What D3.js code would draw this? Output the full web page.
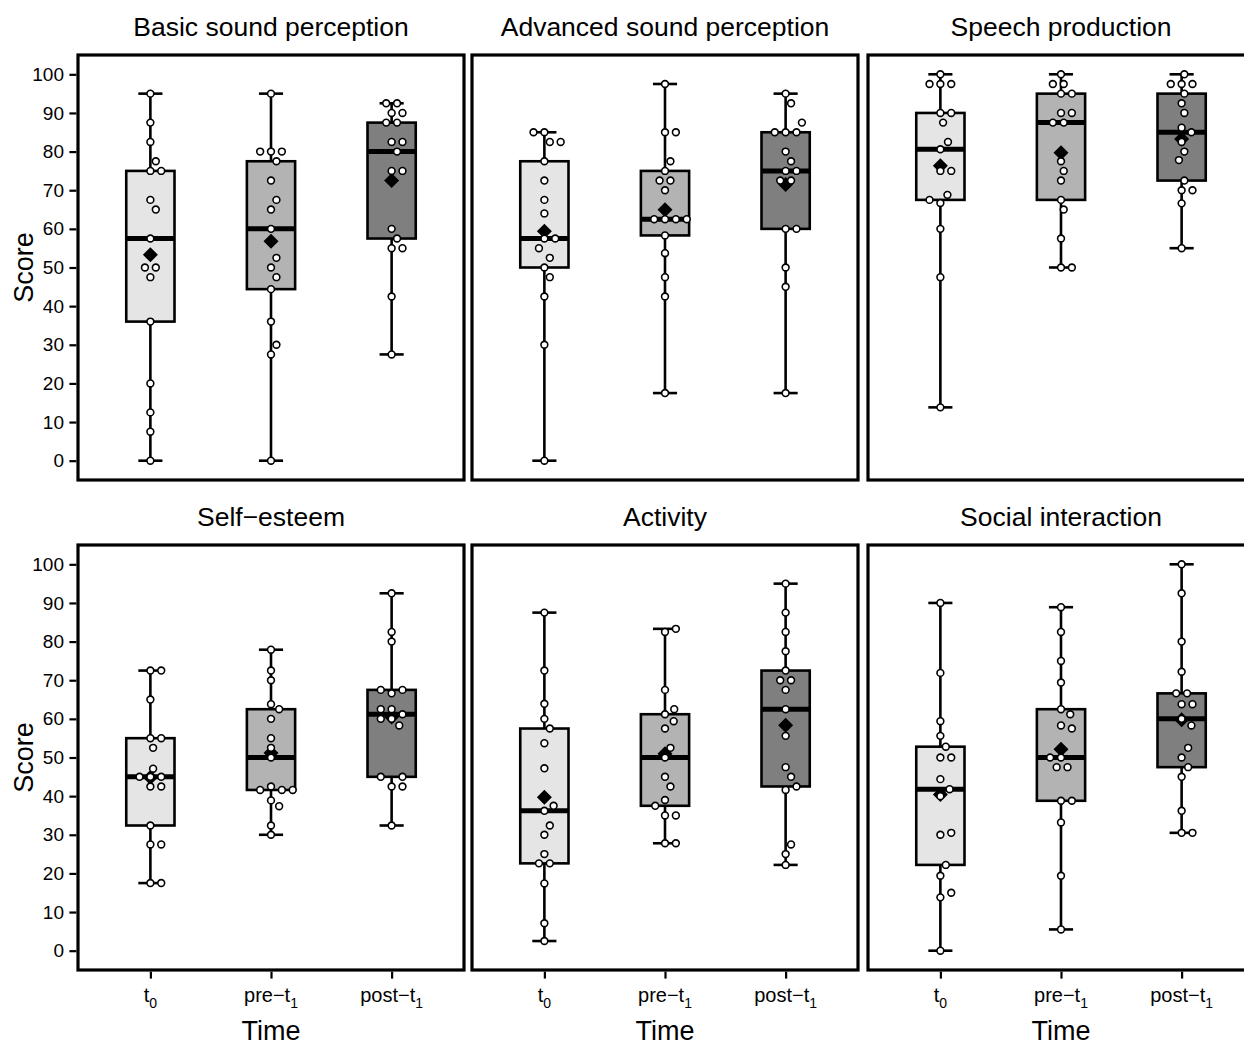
<!DOCTYPE html>
<html>
<head>
<meta charset="utf-8">
<script src="https://cdn.jsdelivr.net/npm/d3@7"></script>
<style>
  body { margin: 0; background: #fff; overflow: hidden; }
  svg { display: block; font-family: "Liberation Sans", Arial, Helvetica, sans-serif; }
</style>
</head>
<body>
<div id="chart"></div>
<script>
// categories
var panelTitles = ["Basic sound perception", "Advanced sound perception", "Speech production",
                   "Self\u2212esteem", "Activity", "Social interaction"];
var times = ["t0", "pre-t1", "post-t1"];
var timeLabels = [["t", "0"], ["pre\u2212t", "1"], ["post\u2212t", "1"]];
var yTicks = [0, 10, 20, 30, 40, 50, 60, 70, 80, 90, 100];
var boxFills = ["#e5e5e5", "#b3b3b3", "#7f7f7f"];

// scores per participant, one array per panel and time
var basicT0   = [95, 87.5, 82.5, 77.5, 75, 75, 67.5, 65, 57.5, 50, 50, 47.5, 36, 20, 12.5, 7.5, 0];
var basicPre  = [95, 80, 80, 80, 77.5, 72.5, 67.5, 65, 60, 52.5, 50, 47.5, 44.4, 36, 30, 27.5, 0];
var basicPost = [92.5, 92.5, 90, 90, 87.5, 87.5, 82.5, 82.5, 80, 75, 75, 60, 57.5, 55, 55, 42.5, 27.5];

var advT0   = [85, 85, 82.5, 82.5, 77.5, 72.5, 67.5, 64, 57.5, 57.5, 55, 52.5, 50, 47.5, 42.5, 30, 0];
var advPre  = [97.5, 85, 85, 77.5, 75, 72.5, 72.5, 70, 62.5, 62.5, 62.5, 62.5, 58.3, 53.7, 47.5, 42.5, 17.5];
var advPost = [95, 92.5, 87.5, 85, 85, 85, 80, 77.5, 75, 75, 72.5, 72.5, 60, 60, 50, 45, 17.5];

var speechT0   = [100, 97.5, 97.5, 97.5, 90, 90, 87.5, 82.5, 80.6, 75, 75, 68.8, 67.5, 66.7, 60, 47.5, 13.8];
var speechPre  = [100, 97.5, 97.5, 95, 95, 90, 90, 87.5, 87.5, 77.5, 75, 72.5, 67.5, 65, 57.5, 50, 50];
var speechPost = [100, 97.5, 97.5, 97.5, 95, 92.5, 90, 86.2, 85, 82.5, 80, 77.8, 72.5, 70, 70, 66.6, 55];

var esteemT0   = [72.5, 72.5, 65, 55, 55, 52.5, 47.1, 45, 45, 45, 42.5, 42.5, 32.4, 27.5, 27.5, 17.5, 17.5];
var esteemPre  = [77.9, 72.5, 70, 63.8, 62.5, 60, 55, 52.5, 50, 42.5, 41.6, 41.6, 41.6, 38.9, 37.4, 32.4, 30];
var esteemPost = [92.5, 82.5, 80, 67.5, 67.5, 66.6, 62.5, 62.5, 61.2, 60, 60, 58.3, 45, 45, 42.5, 42.5, 32.4];

var activityT0   = [87.5, 72.5, 63.9, 60, 57.5, 53.7, 47.2, 37.5, 36.2, 32.4, 30, 25, 22.6, 22.6, 17.4, 7.1, 2.5];
var activityPre  = [83.3, 82.5, 67.5, 62.5, 61.2, 59.4, 57.5, 52.5, 50, 45, 42.5, 39, 37.5, 35, 35, 27.8, 27.8];
var activityPost = [95, 87.5, 82.5, 77.5, 72.5, 70, 70, 67.5, 62.5, 55.6, 47.5, 45, 42.5, 41.6, 27.5, 25, 22.2];

var socialT0   = [90, 71.9, 59.4, 55.6, 52.8, 50, 50, 44.4, 41.8, 40, 30.5, 30, 22.2, 19.4, 15, 13.8, 0];
var socialPre  = [88.9, 82.5, 75, 69.4, 62.5, 61.2, 58.3, 57.5, 50, 50, 47.5, 47.5, 38.8, 38.8, 33.2, 19.4, 5.5];
var socialPost = [100, 92.5, 80, 72.2, 66.6, 66.6, 63.8, 63.8, 60, 58.3, 52.5, 50, 47.5, 45, 36.2, 30.5, 30.5];

// horizontal jitter of each point, in jitter steps (same order as the scores)
var basicT0J   = [0, 0, 0, 1, 0, 2, 0, 1, 0, -1, 1, 0, 0, 0, 0, 0, 0];
var basicPreJ  = [0, -2, 0, 2, 1, 0, 1, 0, 0, 1, 0, 1, 0, 0, 1, 0, 0];
var basicPostJ = [-1, 1, 0, 2, -1, 1, 0, 2, 1, 0, 2, 0, 1, 0, 2, 0, 0];

var advT0J   = [-2, 0, 1, 3, 0, 0, 0, 0, 0, 2, -1, 1, 0, 1, 0, 0, 0];
var advPreJ  = [0, 0, 2, 1, 0, -1, 1, 0, -2, 0, 2, 4, 0, 0, 0, 0, 0];
var advPostJ = [0, 1, 3, -2, 0, 2, 0, 1, 0, 2, -1, 1, 0, 2, 0, 0, 0];

var speechT0J   = [0, -2, 0, 2, 0, 2, 0.5, 1.4, 0, 0, 2, 1.3, -2, 0, 0, 0, 0];
var speechPreJ  = [0, -1.5, 0.5, 0, 2, 0, 2, -1.5, 0.5, 0, 0.5, 0, 0, 0.5, 0, 0, 2];
var speechPostJ = [0.5, -2, 0, 2, 0.5, 0, 0.5, 0, 1.8, 0, 0.5, -0.5, 0.5, 0, 2, 0, 0];

var esteemT0J   = [0, 2, 0, 0, 2, 0.5, 0.5, -2, 0, 2, 0, 2, 0, 0, 2, 0, 2];
var esteemPreJ  = [0, 0, 0, 0, 1.5, 0, 0, 0, 0, 0, -2, 2, 4, 0, 1.5, 0, 0];
var esteemPostJ = [0, 0, 0, -2, 2, 0, -2, 0, 2, -2, 0, 1.4, -2, 2, 0, 2, 0];

var activityT0J   = [0, 0, 0, 0, 1, 0, 0, 1.7, 0, 1, 0, 0, -1, 1, 0, 0, 0];
var activityPreJ  = [2, 0, 0, 1.7, 0, 1.6, 0, 1, 0, 0, 1, 0, -1.8, 0, 2, 0, 2];
var activityPostJ = [0, 0, 0, 0, 0, -1, 1, 0, 0, 0, 0, 1, 2, 0, 1, 0, 0];

var socialT0J   = [0, 0, 0, 0, 1, 0, 2, 0, 1.7, 0, 2, 0, 1, 0, 2, 0, 0];
var socialPreJ  = [0, 0, 0, 0, 0, 1.7, 0, 2, -2, 0, -0.8, 1.2, 0, 2, 0, 0, 0];
var socialPostJ = [0, 0, 0, 0, -1, 1, 0, 2, 0, 1.8, 1.2, 0, 1.2, 0, 0, 0, 2];

var scores = [
    [basicT0, basicPre, basicPost],
    [advT0, advPre, advPost],
    [speechT0, speechPre, speechPost],
    [esteemT0, esteemPre, esteemPost],
    [activityT0, activityPre, activityPost],
    [socialT0, socialPre, socialPost]
];
var jitters = [
    [basicT0J, basicPreJ, basicPostJ],
    [advT0J, advPreJ, advPostJ],
    [speechT0J, speechPreJ, speechPostJ],
    [esteemT0J, esteemPreJ, esteemPostJ],
    [activityT0J, activityPreJ, activityPostJ],
    [socialT0J, socialPreJ, socialPostJ]
];

// layout
var fullwidth = 1244, fullheight = 1046;
var panelLeft = [78, 472, 868],
    panelTop = [55, 545],
    panelW = 386,
    panelH = 425;

var svg = d3.select("#chart")
  .append("svg")
    .attr("width", fullwidth)
    .attr("height", fullheight);

var xScale = d3.scalePoint()
    .domain(times)
    .range([0, panelW])
    .padding(0.6);
var step = xScale.step();
var boxW = step * 0.4,
    capW = step * 0.2,
    jitterStep = step * 0.045;

var yScale = d3.scaleLinear()
    .domain([-5, 105])
    .range([panelH, 0]);

function diamond(r) {
    return "M0," + (-r) + "L" + r + ",0L0," + r + "L" + (-r) + ",0Z";
}

for (var p = 0; p < panelTitles.length; p++) {
    var col = p % 3, row = Math.floor(p / 3);
    var g = svg.append("g")
        .attr("transform", "translate(" + panelLeft[col] + "," + panelTop[row] + ")");

    // title
    g.append("text")
        .attr("x", panelW / 2)
        .attr("y", -19)
        .attr("text-anchor", "middle")
        .style("font-size", "26.5px")
        .text(panelTitles[p]);

    for (var t = 0; t < times.length; t++) {
        var vals = scores[p][t].slice().sort(d3.ascending);
        var q1 = d3.quantile(vals, 0.25),
            med = d3.quantile(vals, 0.5),
            q3 = d3.quantile(vals, 0.75),
            lo = d3.min(vals),
            hi = d3.max(vals),
            mean = d3.mean(vals);
        var cx = xScale(times[t]);

        // whisker + caps
        g.append("line")
            .attr("x1", cx).attr("x2", cx)
            .attr("y1", yScale(lo)).attr("y2", yScale(hi))
            .attr("stroke", "#000").attr("stroke-width", 2.6);
        [lo, hi].forEach(function (v) {
            g.append("line")
                .attr("x1", cx - capW / 2).attr("x2", cx + capW / 2)
                .attr("y1", yScale(v)).attr("y2", yScale(v))
                .attr("stroke", "#000").attr("stroke-width", 2.6);
        });

        // box
        g.append("rect")
            .attr("x", cx - boxW / 2)
            .attr("y", yScale(q3))
            .attr("width", boxW)
            .attr("height", yScale(q1) - yScale(q3))
            .attr("fill", boxFills[t])
            .attr("stroke", "#000")
            .attr("stroke-width", 2.6);

        // median
        g.append("line")
            .attr("x1", cx - boxW / 2).attr("x2", cx + boxW / 2)
            .attr("y1", yScale(med)).attr("y2", yScale(med))
            .attr("stroke", "#000").attr("stroke-width", 5);

        // mean
        g.append("path")
            .attr("transform", "translate(" + cx + "," + yScale(mean) + ")")
            .attr("d", diamond(7.5))
            .attr("fill", "#000");

        // points
        var jit = jitters[p][t];
        g.selectAll(null)
            .data(scores[p][t])
            .enter()
            .append("circle")
                .attr("cx", function (d, i) { return cx + jit[i] * jitterStep; })
                .attr("cy", function (d) { return yScale(d); })
                .attr("r", 3.4)
                .attr("fill", "#fff")
                .attr("stroke", "#000")
                .attr("stroke-width", 1.6);
    }

    // panel border
    g.append("rect")
        .attr("width", panelW)
        .attr("height", panelH)
        .attr("fill", "none")
        .attr("stroke", "#000")
        .attr("stroke-width", 3.2);

    // y axis on the left column
    if (col === 0) {
        var yAxis = d3.axisLeft(yScale)
            .tickValues(yTicks)
            .tickSize(7)
            .tickPadding(4);
        var ya = g.append("g").call(yAxis);
        ya.select(".domain").remove();
        ya.selectAll("line").attr("stroke-width", 2.2).attr("transform", "translate(-1.6,0)");
        ya.selectAll("text")
            .attr("x", -14)
            .style("font-size", "19px")
            .attr("fill", "#000");

        g.append("text")
            .attr("transform", "translate(" + (-45) + "," + (panelH / 2) + ") rotate(-90)")
            .attr("text-anchor", "middle")
            .style("font-size", "27px")
            .text("Score");
    }

    // x axis on the bottom row
    if (row === 1) {
        var xAxis = d3.axisBottom(xScale)
            .tickSize(7)
            .tickFormat("");
        var xa = g.append("g")
            .attr("transform", "translate(0," + panelH + ")")
            .call(xAxis);
        xa.select(".domain").remove();
        xa.selectAll("line").attr("stroke-width", 2.2).attr("transform", "translate(0,1.6)");

        times.forEach(function (tm, i) {
            var lab = g.append("text")
                .attr("x", xScale(tm))
                .attr("y", panelH + 32)
                .attr("text-anchor", "middle")
                .style("font-size", "20px");
            lab.append("tspan").text(timeLabels[i][0]);
            lab.append("tspan")
                .attr("dy", 6)
                .style("font-size", "14px")
                .text(timeLabels[i][1]);
        });

        g.append("text")
            .attr("x", panelW / 2)
            .attr("y", panelH + 70)
            .attr("text-anchor", "middle")
            .style("font-size", "27px")
            .text("Time");
    }
}
</script>
</body>
</html>
